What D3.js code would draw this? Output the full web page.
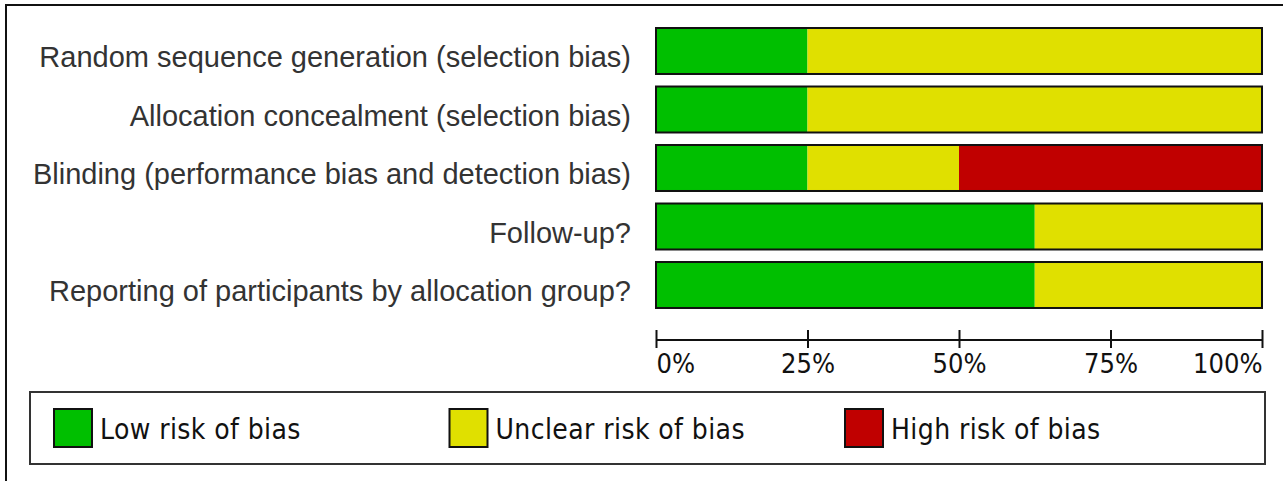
<!DOCTYPE html>
<html><head><meta charset="utf-8">
<script src="https://cdn.jsdelivr.net/npm/d3@7"></script>
<style>html,body{margin:0;padding:0;background:#fff;overflow:hidden}</style>
</head><body>
<script>
const categories = [
  "Random sequence generation (selection bias)",
  "Allocation concealment (selection bias)",
  "Blinding (performance bias and detection bias)",
  "Follow-up?",
  "Reporting of participants by allocation group?"
];
const lowRisk     = [25, 25, 25, 62.5, 62.5];
const unclearRisk = [75, 75, 25, 37.5, 37.5];
const highRisk    = [0, 0, 50, 0, 0];
const seriesNames = ["Low risk of bias", "Unclear risk of bias", "High risk of bias"];
const tickValues  = [0, 25, 50, 75, 100];
const tickLabels  = ["0%", "25%", "50%", "75%", "100%"];

const W = 1283, H = 481;
const colors = ["#00bf00", "#e0e000", "#c00000"];
const svg = d3.select("body").append("svg").attr("width", W).attr("height", H);

// outer frame (top and left edges visible)
svg.append("line").attr("x1", 6).attr("x2", W).attr("y1", 5).attr("y2", 5).attr("stroke", "#111").attr("stroke-width", 2);
svg.append("line").attr("x1", 6).attr("x2", 6).attr("y1", 4).attr("y2", H).attr("stroke", "#111").attr("stroke-width", 2);

const x = d3.scaleLinear().domain([0, 100]).range([656, 1262]);
const y = d3.scaleBand().domain(categories).range([21.75, 314.25]).paddingInner(0.214).paddingOuter(0.107);

const table = categories.map((c, i) => ({cat: c, s0: lowRisk[i], s1: unclearRisk[i], s2: highRisk[i]}));
const stack = d3.stack().keys(["s0", "s1", "s2"])(table);

svg.append("g").selectAll("g").data(stack).join("g")
  .attr("fill", (d, i) => colors[i])
  .selectAll("rect").data(d => d).join("rect")
  .attr("x", d => x(d[0])).attr("width", d => x(d[1]) - x(d[0]))
  .attr("y", d => y(d.data.cat)).attr("height", y.bandwidth());

svg.append("g").selectAll("rect").data(categories).join("rect")
  .attr("x", x(0)).attr("width", x(100) - x(0))
  .attr("y", d => y(d)).attr("height", y.bandwidth())
  .attr("fill", "none").attr("stroke", "#111").attr("stroke-width", 2);

svg.append("g").selectAll("text").data(categories).join("text")
  .attr("x", 631).attr("y", d => y(d) + y.bandwidth() / 2 + 16)
  .attr("text-anchor", "end")
  .attr("font-family", "'Liberation Sans', Arial, sans-serif")
  .attr("font-size", 29).attr("fill", "#333")
  .text(d => d);

// axis
const axisY = 340;
const ax = svg.append("g").attr("transform", `translate(0,${axisY})`)
  .call(d3.axisBottom(x).tickValues(tickValues).tickFormat((d, i) => tickLabels[i]).tickSize(0).tickPadding(0));
ax.select(".domain").remove();
ax.append("line").attr("x1", x(0)).attr("x2", x(100)).attr("stroke", "#111").attr("stroke-width", 2);
ax.selectAll(".tick").append("line").attr("y1", -10).attr("y2", 8).attr("stroke", "#111").attr("stroke-width", 2);
ax.selectAll(".tick text")
  .attr("y", 33).attr("dy", null)
  .attr("font-family", "'DejaVu Sans Condensed', 'DejaVu Sans', sans-serif")
  .attr("font-stretch", "condensed")
  .attr("font-size", 27).attr("fill", "#111")
  .attr("text-anchor", (d, i) => i === 0 ? "start" : (i === tickValues.length - 1 ? "end" : "middle"));

// legend
svg.append("rect").attr("x", 30).attr("y", 392).attr("width", 1235).attr("height", 72)
  .attr("fill", "none").attr("stroke", "#333").attr("stroke-width", 2);
const lg = svg.append("g").selectAll("g").data(seriesNames).join("g")
  .attr("transform", (d, i) => `translate(${54 + i * 395.5},409)`);
lg.append("rect").attr("width", 38).attr("height", 38)
  .attr("fill", (d, i) => colors[i]).attr("stroke", "#111").attr("stroke-width", 2);
lg.append("text").attr("x", 46).attr("y", 30)
  .attr("font-family", "'DejaVu Sans Condensed', 'DejaVu Sans', sans-serif")
  .attr("font-stretch", "condensed")
  .attr("font-size", 28).attr("letter-spacing", 0.4).attr("fill", "#111")
  .text(d => d);
</script>
</body></html>
